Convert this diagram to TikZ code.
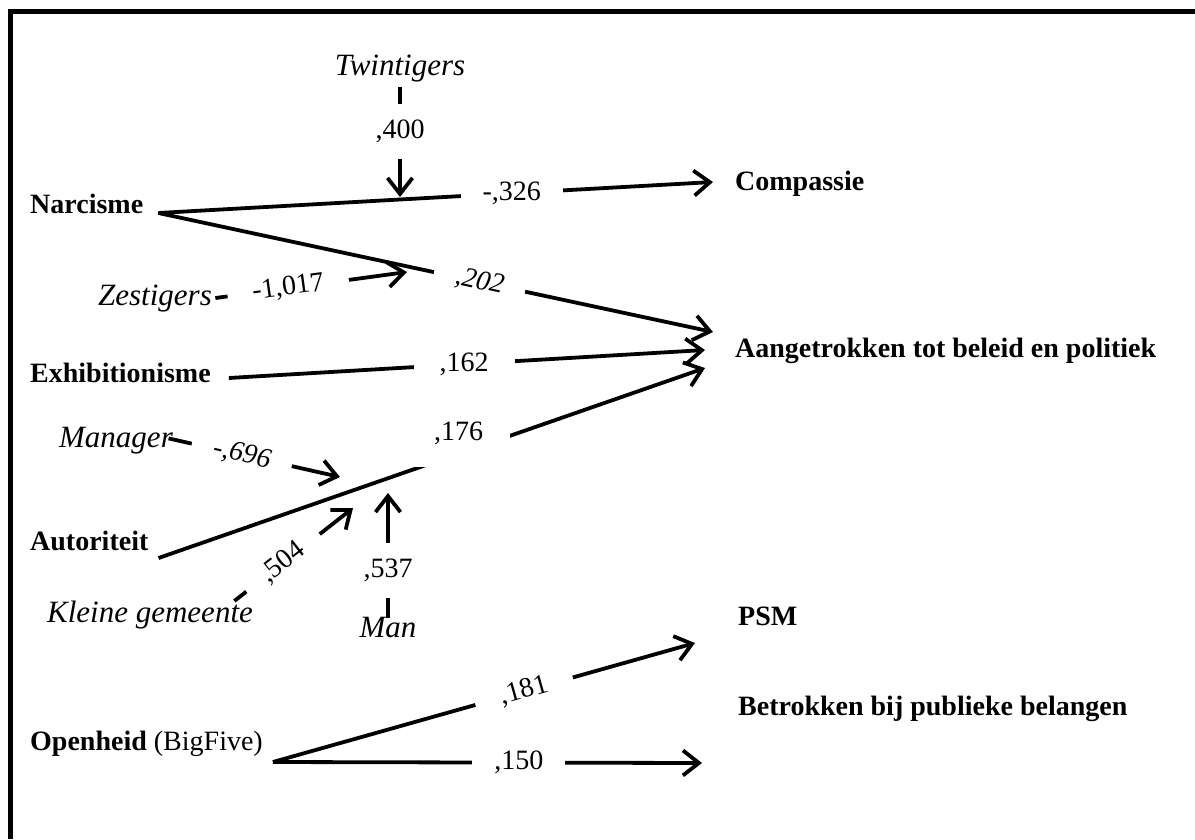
\documentclass[tikz,border=0pt]{standalone}
\usepackage{fontspec}
\setmainfont{Liberation Serif}
\usetikzlibrary{arrows.meta,positioning}

\begin{document}
\begin{tikzpicture}[
  x=1pt, y=-1pt,
  var/.style={inner sep=0pt, anchor=base west, font=\fontsize{28}{32}\selectfont\bfseries},
  moder/.style={anchor=base, font=\fontsize{31}{34}\selectfont\itshape},
  coef/.style={fill=white, inner xsep=22pt, inner ysep=5pt, text height=19pt, text depth=5pt, font=\fontsize{28}{32}\selectfont},
  coefit/.style={coef, font=\fontsize{28}{32}\selectfont\itshape},
  flecha/.style={-{Straight Barb[length=16pt,width=25pt]}, line width=3.8pt}
]
\useasboundingbox (0,0) rectangle (1195,839);
\draw[line width=5pt] (10,839) -- (10,11) -- (1195,11);

% variabelen
\node[var] (narc) at (30,213) {Narcisme};
\node[var] (exh) at (30,382) {Exhibitionisme};
\node[var] (aut) at (30,550) {Autoriteit};
\node[var] (open) at (30,750) {Openheid \normalfont(BigFive)};
\node[var] (comp) at (735,190) {Compassie};
\node[var] (aang) at (735,357) {Aangetrokken tot beleid en politiek};
\node[var] (psm) at (738,625) {PSM};
\node[var] (betr) at (738,715) {Betrokken bij publieke belangen};

% moderatoren
\node[moder] (twin) at (400,75) {Twintigers};
\node[moder] (zest) at (155,305) {Zestigers};
\node[moder] (mgr) at (116,447) {Manager};
\node[moder] (klein) at (150,622) {Kleine gemeente};
\node[moder] (man) at (388,637) {Man};
\coordinate (twin-tip) at (400,197);
\coordinate (zest-tip) at (407,272);
\coordinate (mgr-tip) at (340,477);
\coordinate (klein-tip) at (353,508);
\coordinate (man-tip) at (388,493);

% hoofdeffecten
\draw[flecha] ([xshift=15pt]narc.base east) -- node[coef, pos=.637] {-,326} ([shift={(-22,-8)}]comp.base west);
\draw[flecha] ([xshift=15pt]narc.base east) -- node[coefit, sloped, pos=.579] {,202} ([shift={(-22,-25)}]aang.base west);
\draw[flecha] ([shift={(18,-4)}]exh.base east) -- node[coef, pos=.494, inner xsep=26pt] {,162} ([shift={(-30,-7)}]aang.base west);
\draw[flecha] ([shift={(10,8)}]aut.base east) -- node[coef, pos=.549, yshift=20pt, inner xsep=26.5pt, inner ysep=21pt] {,176} ([shift={(-30,11)}]aang.base west);
\draw[flecha] ([shift={(10,12)}]open.base east) -- node[coef, sloped, pos=.595, inner xsep=26pt] {,181} ([shift={(-43,18)}]psm.base west);
\draw[flecha] ([shift={(10,12)}]open.base east) -- node[coef, pos=.573] {,150} ([shift={(-36,48)}]betr.base west);

% interacties
\draw[flecha, shorten <=2pt] (twin.south) -- node[coef, pos=.416, inner ysep=15.5pt] {,400} (twin-tip);
\draw[flecha] (zest.east) -- node[coef, sloped, pos=.38, inner xsep=25pt] {-1,017} (zest-tip);
\draw[flecha, shorten <=-8pt] (mgr.east) -- node[coefit, sloped, pos=.40] {-,696} (mgr-tip);
\draw[flecha] ([shift={(-22,4)}]klein.north east) -- node[coef, sloped, pos=.41] {,504} (klein-tip);
\draw[flecha, shorten <=-5pt] (man.north) -- node[coef, pos=.356, inner ysep=15.5pt] {,537} (man-tip);
\end{tikzpicture}
\end{document}
